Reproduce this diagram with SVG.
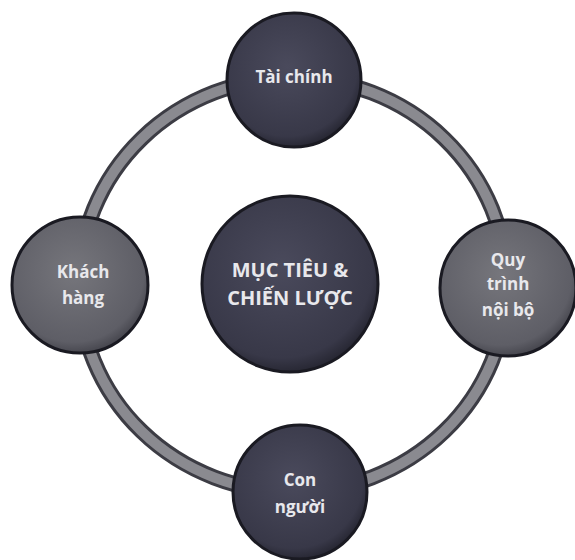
<svg xmlns="http://www.w3.org/2000/svg" width="575" height="560" viewBox="0 0 575 560">
<defs>
<radialGradient id="dark" cx="0.45" cy="0.4" r="0.65">
<stop offset="0" stop-color="#4a4a5c"/>
<stop offset="0.8" stop-color="#383848"/>
<stop offset="1" stop-color="#1e1e28"/>
</radialGradient>
<radialGradient id="light" cx="0.45" cy="0.4" r="0.65">
<stop offset="0" stop-color="#76767c"/>
<stop offset="0.8" stop-color="#5e5e66"/>
<stop offset="1" stop-color="#3a3a42"/>
</radialGradient>
</defs>
<style>
.lbl{font-family:"Open Sans","Liberation Sans",sans-serif;font-weight:bold;font-size:17px;fill:#e8e8ec;text-anchor:middle}
.big{font-size:20px}
.nd{stroke:#1a1a22;stroke-width:3}
</style>
<rect width="575" height="560" fill="#ffffff"/>
<g id="connectors">
<ellipse cx="293" cy="285" rx="214" ry="207" fill="none" stroke="#3c3c44" stroke-width="16"/>
<ellipse cx="293" cy="285" rx="214" ry="207" fill="none" stroke="#8a8a90" stroke-width="10"/>
</g>
<g id="center">
<circle cx="290" cy="284" r="88" fill="url(#dark)" class="nd"/>
<text class="lbl big" x="290" y="277">MỤC TIÊU &amp;</text>
<text class="lbl big" x="290" y="305">CHIẾN LƯỢC</text>
</g>
<g id="tai-chinh">
<circle cx="294" cy="80" r="67" fill="url(#dark)" class="nd"/>
<text class="lbl" x="294" y="83">Tài chính</text>
</g>
<g id="khach-hang">
<circle cx="80" cy="285" r="68" fill="url(#light)" class="nd"/>
<text class="lbl" x="83" y="278">Khách</text>
<text class="lbl" x="83" y="304">hàng</text>
</g>
<g id="quy-trinh">
<circle cx="508" cy="288" r="68" fill="url(#light)" class="nd"/>
<text class="lbl" x="508" y="266">Quy</text>
<text class="lbl" x="508" y="290">trình</text>
<text class="lbl" x="508" y="316">nội bộ</text>
</g>
<g id="con-nguoi">
<circle cx="300" cy="492" r="67" fill="url(#dark)" class="nd"/>
<text class="lbl" x="300" y="486">Con</text>
<text class="lbl" x="300" y="513">người</text>
</g>
</svg>
